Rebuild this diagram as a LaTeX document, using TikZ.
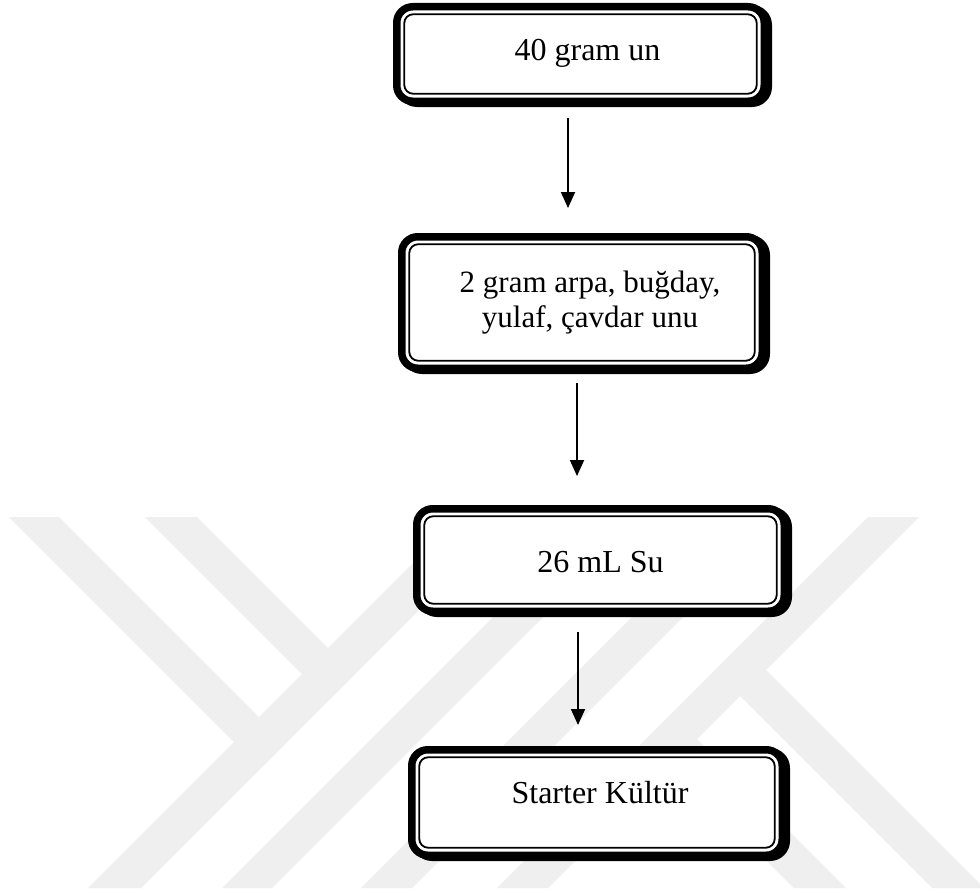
\documentclass[tikz,border=0pt]{standalone}
\usepackage{fontspec}
\setmainfont{Liberation Serif}
\usetikzlibrary{arrows.meta}
\pgfdeclarelayer{bg}
\pgfsetlayers{bg,main}
\definecolor{wm}{RGB}{239,239,239}
\begin{document}
\begin{tikzpicture}[x=1bp,y=-1bp,
  box/.style={draw=black, fill=white, line width=7.5bp, rounded corners=16bp, inner sep=0pt, outer sep=0pt},
  thinline/.style={draw=black, line width=1.8bp, rounded corners=9bp},
  shadowfill/.style={fill=black, rounded corners=20bp},
  lbl/.style={font=\fontsize{32bp}{37bp}\selectfont, inner sep=0pt, anchor=base},
  lblb/.style={font=\fontsize{31bp}{36bp}\selectfont, inner sep=0pt, anchor=base},
  arr/.style={line width=1.8bp, -{Triangle[length=16bp,width=14bp]}},
  wmband/.style={fill=wm}
]
\useasboundingbox (0,0) rectangle (980,893);
% watermark
\begin{pgfonlayer}{bg}
\fill[white] (0,0) rectangle (980,893);
\fill[wmband] (9,517) -- (59,517) -- (285.5,743.5) -- (260.5,768.5) -- cycle;
\fill[wmband] (145,517) -- (197,517) -- (354.5,674.5) -- (328.5,700.5) -- cycle;
\fill[wmband] (459,517) -- (512,517) -- (141,888) -- (88,888) -- cycle;
\fill[wmband] (593,517) -- (643,517) -- (272,888) -- (222,888) -- cycle;
\fill[wmband] (732,517) -- (783,517) -- (412,888) -- (361,888) -- cycle;
\fill[wmband] (868,517) -- (919,517) -- (548,888) -- (497,888) -- cycle;
\fill[wmband] (714.5,670.5) -- (740.5,644.5) -- (984,888) -- (932,888) -- cycle;
\fill[wmband] (645.5,739.5) -- (671.5,713.5) -- (846,888) -- (794,888) -- cycle;
\end{pgfonlayer}
% boxes
\node[box, minimum width=367.5bp, minimum height=94.5bp] (b1) at (580.5,54) {};
\node[box, minimum width=360.5bp, minimum height=131.5bp] (b2) at (582,302.5) {};
\node[box, minimum width=367.5bp, minimum height=102.5bp] (b3) at (600.5,560) {};
\node[box, minimum width=370.5bp, minimum height=105.5bp] (b4) at (597,802.5) {};
\foreach \b in {b1,b2,b3,b4}{
  \begin{pgfonlayer}{bg}
  \fill[shadowfill] ([shift={(0.25,-1.75)}]\b.north west) rectangle ([shift={(7.75,5.75)}]\b.south east);
  \end{pgfonlayer}
  \draw[thinline] ([shift={(7.5,7.5)}]\b.north west) rectangle ([shift={(-7.5,-7.5)}]\b.south east);
}
% texts
\node[lbl] (t1) at (587.5,60) {40 gram un};
\node[lblb] (t2a) at (590,292) {2 gram arpa, buğday,};
\node[lblb] (t2b) at (590,327) {yulaf, çavdar unu};
\node[lbl] (t3) at (600.5,572) {26 mL Su};
\node[lbl] (t4) at (600,803) {Starter Kültür};
% arrows
\coordinate (a1s) at (568,118); \coordinate (a1e) at (568,208);
\coordinate (a2s) at (577,383); \coordinate (a2e) at (577,476);
\coordinate (a3s) at (578,632); \coordinate (a3e) at (578,725);
\draw[arr] (a1s) -- (a1e);
\draw[arr] (a2s) -- (a2e);
\draw[arr] (a3s) -- (a3e);
\end{tikzpicture}
\end{document}
